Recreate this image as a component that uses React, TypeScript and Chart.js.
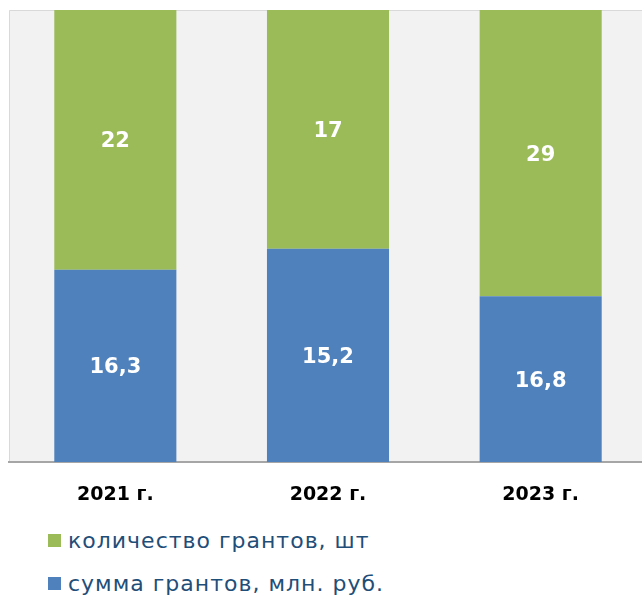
import React, { useEffect, useRef } from "react";
import { Chart, registerables } from "chart.js";

Chart.register(...registerables);

const categories = ["2021 г.", "2022 г.", "2023 г."];
const grantSum = [16.3, 15.2, 16.8];
const grantCount = [22, 17, 29];
const sumLabel = "сумма грантов, млн. руб.";
const countLabel = "количество грантов, шт";
const sumColor = "#4f81bd";
const countColor = "#9bbb59";

const FONT = "'DejaVu Sans', sans-serif";

const fmt = (v: number) => String(v).replace(".", ",");

export default function App() {
  const ref = useRef<HTMLCanvasElement | null>(null);

  useEffect(() => {
    document.body.style.margin = "0";
    const totals = categories.map((_, i) => grantSum[i] + grantCount[i]);
    const raw = [grantSum, grantCount];

    const bgPlugin = {
      id: "plotBg",
      beforeDraw(chart: any) {
        const { ctx, chartArea: a } = chart;
        ctx.save();
        ctx.fillStyle = "#f2f2f2";
        ctx.fillRect(a.left, a.top, a.right - a.left, a.bottom - a.top);
        ctx.strokeStyle = "#d9d9d9";
        ctx.lineWidth = 1;
        ctx.beginPath();
        ctx.moveTo(a.left + 0.5, a.bottom);
        ctx.lineTo(a.left + 0.5, a.top + 0.5);
        ctx.lineTo(a.right, a.top + 0.5);
        ctx.stroke();
        ctx.restore();
      },
    };

    const labelPlugin = {
      id: "valueLabels",
      afterDatasetsDraw(chart: any) {
        const ctx = chart.ctx;
        ctx.save();
        ctx.fillStyle = "#ffffff";
        ctx.font = `bold 21px ${FONT}`;
        ctx.textAlign = "center";
        ctx.textBaseline = "middle";
        chart.data.datasets.forEach((_: any, di: number) => {
          const meta = chart.getDatasetMeta(di);
          meta.data.forEach((el: any, i: number) => {
            const p = el.getProps(["x", "y", "base"], true);
            ctx.fillText(fmt(raw[di][i]), p.x, (p.y + p.base) / 2 + 2);
          });
        });
        ctx.restore();
      },
    };

    const chart = new Chart(ref.current as HTMLCanvasElement, {
      type: "bar",
      data: {
        labels: categories,
        datasets: [
          {
            label: sumLabel,
            data: grantSum.map((v, i) => (v / totals[i]) * 100),
            backgroundColor: sumColor,
            borderWidth: 0,
          },
          {
            label: countLabel,
            data: grantCount.map((v, i) => (v / totals[i]) * 100),
            backgroundColor: countColor,
            borderWidth: 0,
          },
        ],
      },
      options: {
        animation: false,
        responsive: false,
        maintainAspectRatio: false,
        layout: { padding: { left: 9, top: 10, right: 13, bottom: 0 } },
        datasets: { bar: { categoryPercentage: 1, barPercentage: 0.574 } },
        plugins: { legend: { display: false }, tooltip: { enabled: false } },
        scales: {
          x: {
            stacked: true,
            grid: { display: false, drawTicks: false },
            border: { display: true, color: "#a6a6a6", width: 2 },
            ticks: {
              color: "#000000",
              font: { family: FONT, size: 19, weight: "bold" },
              padding: 22,
            },
            afterFit: (scale: any) => {
              scale.height = 58;
            },
          },
          y: {
            stacked: true,
            display: false,
            min: 0,
            max: 100,
          },
        },
      },
      plugins: [bgPlugin, labelPlugin],
    } as any);
    return () => chart.destroy();
  }, []);

  const legendItems = [
    { label: countLabel, color: countColor, top: 527 },
    { label: sumLabel, color: sumColor, top: 570 },
  ];

  return (
    <div style={{ position: "relative", width: 642, height: 596, overflow: "hidden" }}>
      <canvas ref={ref} width={660} height={520} style={{ position: "absolute", left: 0, top: 0 }} />
      {legendItems.map((it) => (
        <div
          key={it.label}
          style={{
            position: "absolute",
            left: 48,
            top: it.top,
            height: 26,
            display: "flex",
            alignItems: "center",
            fontFamily: FONT,
            fontSize: 22,
            letterSpacing: 1,
            color: "#1f4e79",
            whiteSpace: "nowrap",
          }}
        >
          <span style={{ display: "inline-block", width: 13, height: 13, background: it.color, marginRight: 7 }} />
          <span>{it.label}</span>
        </div>
      ))}
    </div>
  );
}
